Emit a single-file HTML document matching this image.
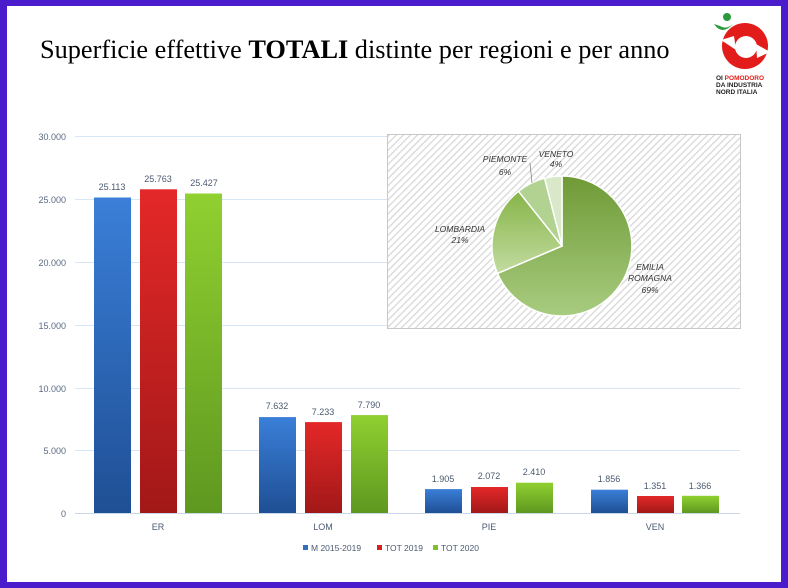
<!DOCTYPE html>
<html><head><meta charset="utf-8"><style>
body{margin:0;width:788px;height:588px;overflow:hidden;background:#fff;}
svg{display:block}
text{font-family:"Liberation Sans",sans-serif}
</style></head><body>
<svg width="788" height="588" xmlns="http://www.w3.org/2000/svg">
<defs>
<linearGradient id="gb" x1="0" y1="0" x2="0" y2="1"><stop offset="0" stop-color="#3a7fd8"/><stop offset="1" stop-color="#1f4f94"/></linearGradient>
<linearGradient id="gr" x1="0" y1="0" x2="0" y2="1"><stop offset="0" stop-color="#e42828"/><stop offset="1" stop-color="#a21818"/></linearGradient>
<linearGradient id="gg" x1="0" y1="0" x2="0" y2="1"><stop offset="0" stop-color="#90d030"/><stop offset="1" stop-color="#5e9820"/></linearGradient>
<linearGradient id="pe" x1="0" y1="0" x2="0" y2="1"><stop offset="0" stop-color="#6f9a36"/><stop offset="1" stop-color="#a8cc80"/></linearGradient>
<linearGradient id="pl" x1="0" y1="0" x2="0" y2="1"><stop offset="0" stop-color="#86b448"/><stop offset="1" stop-color="#c2dca0"/></linearGradient>
<pattern id="hatch" width="5" height="5" patternUnits="userSpaceOnUse" patternTransform="rotate(45)"><rect width="5" height="5" fill="#fff"/><rect width="1.3" height="5" fill="#d8d8d8"/></pattern>
</defs>
<rect x="0" y="0" width="788" height="588" fill="#4a1ccc"/>
<rect x="7" y="6" width="774" height="576" fill="#fff"/>
<text x="40" y="58" style="font-family:'Liberation Serif',serif" font-size="26.3" fill="#000">Superficie effettive <tspan font-weight="bold">TOTALI</tspan> distinte per regioni e per anno</text>
<!-- logo -->
<circle cx="745" cy="46" r="23" fill="#e21b1b"/>
<circle cx="746" cy="47" r="11" fill="#fff"/>
<path d="M721 40 L734 36 L736 50 Z" fill="#fff"/>
<path d="M770 52 L757 58 L756 44 Z" fill="#fff"/>
<circle cx="727" cy="17" r="4" fill="#2a9a3a"/>
<path d="M714 24 Q722 36 733 24 Q726 30 720 26 Z" fill="#2a9a3a"/>
<text x="716" y="80" font-size="6.5" font-weight="bold" fill="#222">OI <tspan fill="#e21b1b">POMODORO</tspan></text>
<text x="716" y="87" font-size="6.5" font-weight="bold" fill="#222">DA INDUSTRIA</text>
<text x="716" y="94" font-size="6.5" font-weight="bold" fill="#222">NORD ITALIA</text>
<!-- grid -->
<g stroke="#d6e6f6" stroke-width="1">
<line x1="75" y1="136.5" x2="740" y2="136.5"/><line x1="75" y1="199.5" x2="740" y2="199.5"/>
<line x1="75" y1="262.5" x2="740" y2="262.5"/><line x1="75" y1="325.5" x2="740" y2="325.5"/>
<line x1="75" y1="388.5" x2="740" y2="388.5"/><line x1="75" y1="450.5" x2="740" y2="450.5"/>
<line x1="75" y1="513.5" x2="740" y2="513.5" stroke="#c8d8e8"/>
</g>
<g font-size="9" fill="#5a6a80" text-anchor="end">
<text x="66" y="140">30.000</text><text x="66" y="203">25.000</text><text x="66" y="266">20.000</text>
<text x="66" y="329">15.000</text><text x="66" y="392">10.000</text><text x="66" y="454">5.000</text><text x="66" y="517">0</text>
</g>
<g>
<rect x="94" y="197.5" width="37" height="315.5" fill="url(#gb)"/>
<rect x="140" y="189.3" width="37" height="323.7" fill="url(#gr)"/>
<rect x="185" y="193.5" width="37" height="319.5" fill="url(#gg)"/>
<rect x="259" y="417.1" width="37" height="95.9" fill="url(#gb)"/>
<rect x="305" y="422.1" width="37" height="90.9" fill="url(#gr)"/>
<rect x="351" y="415.1" width="37" height="97.9" fill="url(#gg)"/>
<rect x="425" y="489.1" width="37" height="23.9" fill="url(#gb)"/>
<rect x="471" y="487.0" width="37" height="26" fill="url(#gr)"/>
<rect x="516" y="482.7" width="37" height="30.3" fill="url(#gg)"/>
<rect x="591" y="489.7" width="37" height="23.3" fill="url(#gb)"/>
<rect x="637" y="496.0" width="37" height="17" fill="url(#gr)"/>
<rect x="682" y="495.8" width="37" height="17.2" fill="url(#gg)"/>
</g>
<g font-size="9" fill="#4a5a70" text-anchor="middle">
<text x="112" y="190">25.113</text><text x="158" y="182">25.763</text><text x="204" y="186">25.427</text>
<text x="277" y="409">7.632</text><text x="323" y="415">7.233</text><text x="369" y="408">7.790</text>
<text x="443" y="482">1.905</text><text x="489" y="479">2.072</text><text x="534" y="475">2.410</text>
<text x="609" y="482">1.856</text><text x="655" y="489">1.351</text><text x="700" y="489">1.366</text>
<text x="158" y="530">ER</text><text x="323" y="530">LOM</text><text x="489" y="530">PIE</text><text x="655" y="530">VEN</text>
</g>
<g font-size="8.5" fill="#4a5a70">
<rect x="303" y="545" width="5" height="5" fill="#2f6fc0"/><text x="311" y="551">M 2015-2019</text>
<rect x="377" y="545" width="5" height="5" fill="#d82020"/><text x="385" y="551">TOT 2019</text>
<rect x="433" y="545" width="5" height="5" fill="#80c028"/><text x="441" y="551">TOT 2020</text>
</g>
<rect x="387.5" y="134.5" width="353" height="194" fill="url(#hatch)" stroke="#c8c8c8"/>
<g stroke="#fff" stroke-width="1.5">
<path d="M562 246 L562 176 A70 70 0 1 1 497.5 273.4 Z" fill="url(#pe)"/>
<path d="M562 246 L497.5 273.4 A70 70 0 0 1 518.5 191.3 Z" fill="url(#pl)"/>
<path d="M562 246 L518.5 191.3 A70 70 0 0 1 544.6 178.2 Z" fill="#b2d292"/>
<path d="M562 246 L544.6 178.2 A70 70 0 0 1 562 176 Z" fill="#d8e8c8"/>
</g>
<line x1="530" y1="163" x2="532" y2="183" stroke="#888" stroke-width="0.8"/>
<g font-size="8.5" font-style="italic" fill="#333" text-anchor="middle">
<text x="556" y="157">VENETO</text><text x="556" y="167">4%</text>
<text x="505" y="162">PIEMONTE</text><text x="505" y="175">6%</text>
<text x="460" y="232">LOMBARDIA</text><text x="460" y="243">21%</text>
<text x="650" y="270">EMILIA</text><text x="650" y="281">ROMAGNA</text><text x="650" y="293">69%</text>
</g>
</svg>
</body></html>
